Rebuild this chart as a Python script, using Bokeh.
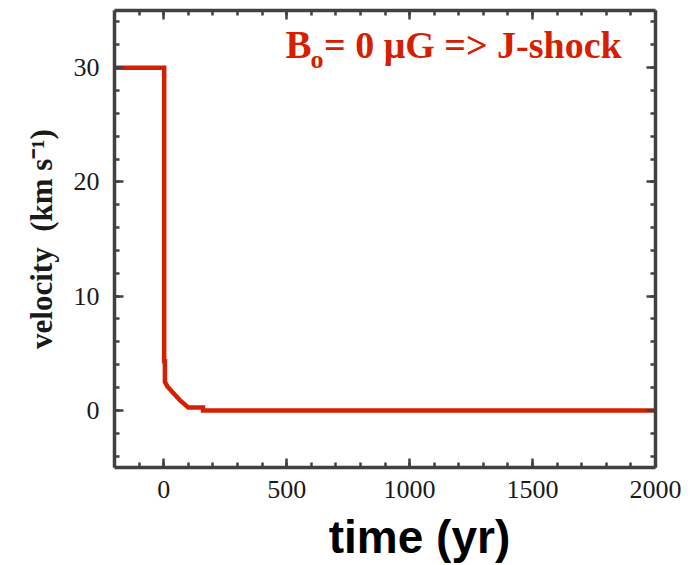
from bokeh.plotting import figure
from bokeh.models import (LinearAxis, Range1d, Label, SingleIntervalTicker,
                          CustomJSTickFormatter)
from bokeh.embed import file_html
from bokeh.resources import INLINE

# data
time_yr = [-200, 2, 2, 5, 5, 15, 40, 68, 100, 160, 160, 2000]
velocity = [30, 30, 4.3, 4.3, 2.5, 2.1, 1.5, 0.85, 0.25, 0.25, 0.0, 0.0]

RED = "#d42000"
FRAME = "#404040"

p = figure(frame_width=541, frame_height=457, output_backend="svg",
           toolbar_location=None, x_range=Range1d(-200, 2000),
           y_range=Range1d(-5, 35), min_border_left=114, min_border_right=44,
           min_border_top=10, min_border_bottom=97, x_axis_location=None,
           y_axis_location=None, outline_line_color=None,
           background_fill_color="white", border_fill_color="white")
p.grid.visible = False

def style_axis(ax, ticks, minor, show_labels):
    ax.ticker = SingleIntervalTicker(interval=ticks, num_minor_ticks=minor)
    ax.axis_line_color = FRAME
    ax.axis_line_width = 3.5
    ax.major_tick_line_color = FRAME
    ax.major_tick_line_width = 2.5
    ax.minor_tick_line_color = FRAME
    ax.minor_tick_line_width = 2.5
    ax.major_tick_in = 9
    ax.major_tick_out = 0
    ax.minor_tick_in = 5
    ax.minor_tick_out = 0
    if show_labels:
        ax.major_label_text_font = "Liberation Serif"
        ax.major_label_text_font_size = "26px"
        ax.major_label_text_color = "#1a1a1a"
        ax.major_label_standoff = 13
    else:
        ax.formatter = CustomJSTickFormatter(code="return ''")
        ax.major_label_standoff = 0

xb = LinearAxis()
style_axis(xb, 500, 5, True)
xb.axis_label = "\u2003\u2002time (yr)"
xb.axis_label_text_font = "Liberation Sans"
xb.axis_label_text_font_style = "bold"
xb.axis_label_text_font_size = "46px"
xb.axis_label_text_color = "black"
xb.axis_label_standoff = 10

xt = LinearAxis()
style_axis(xt, 500, 5, False)
yl = LinearAxis()
style_axis(yl, 10, 5, True)
yl.major_label_standoff = 15
yl.axis_label = "velocity\u2002(km s\u207b\u00b9)"
yl.axis_label_text_font = "Liberation Serif"
yl.axis_label_text_font_style = "bold"
yl.axis_label_text_font_size = "31px"
yl.axis_label_text_color = "#1a1a1a"
yl.axis_label_standoff = 12
yr = LinearAxis()
style_axis(yr, 10, 5, False)

p.add_layout(xb, "below")
p.add_layout(yl, "left")
p.add_layout(xt, "above")
p.add_layout(yr, "right")

p.line(time_yr, velocity, line_color=RED, line_width=4.5, line_join="miter")

common = dict(text_font="Liberation Serif", text_font_style="bold",
              text_color=RED, text_baseline="alphabetic", text_align="left")
p.add_layout(Label(x=495, y=32.0, text="B", text_font_size="39px", **common))
p.add_layout(Label(x=597, y=30.7, text="o", text_font_size="26px", **common))
p.add_layout(Label(x=652, y=32.0, text="= 0 \u03bcG => J-shock", text_font_size="38px", **common))

open("out.html", "w").write(file_html(p, INLINE))
